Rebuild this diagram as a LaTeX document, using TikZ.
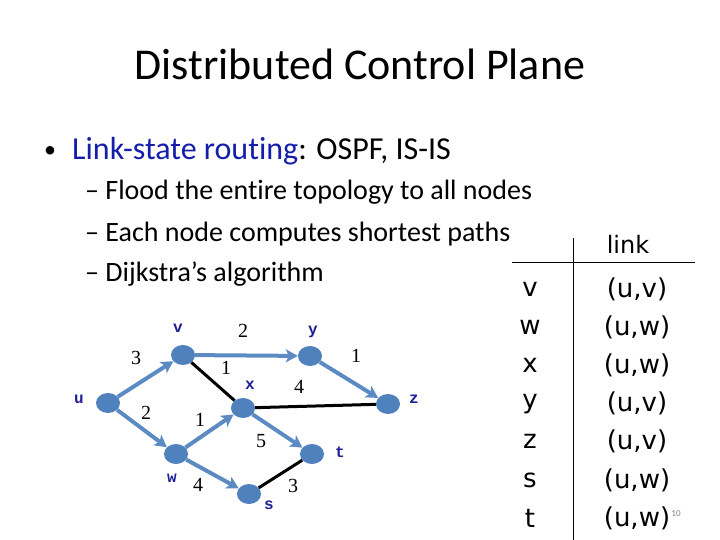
\documentclass[tikz,border=0pt]{standalone}
\usepackage{fontspec}
\setmainfont{Carlito}[Ligatures=NoCommon]
\newfontfamily\monof{Liberation Mono}
\newfontfamily\serf{Liberation Serif}
\newfontfamily\tabf{DejaVu Sans}
\usetikzlibrary{arrows.meta,shapes.geometric}
\definecolor{nodeblue}{RGB}{79,129,189}
\definecolor{edgeblue}{RGB}{92,139,196}
\definecolor{lblblue}{RGB}{30,30,150}
\definecolor{linkblue}{RGB}{20,30,170}
\begin{document}
\begin{tikzpicture}[x=1pt,y=-1pt,
  vert/.style={ellipse, fill=nodeblue, minimum width=24pt, minimum height=20pt, inner sep=0pt},
  nlab/.style={font=\monof\bfseries\fontsize{16}{16}\selectfont, text=lblblue, inner sep=0pt},
  wlab/.style={font=\serf\fontsize{20}{20}\selectfont, inner sep=0pt},
  treeedge/.style={draw=edgeblue, line width=4pt, -{Stealth[length=12pt,width=13pt,inset=3pt]}},
  otheredge/.style={draw=black, line width=3pt},
  tabtxt/.style={font=\tabf\fontsize{26}{26}\selectfont, inner sep=0pt},
  txt/.style={anchor=base west, inner sep=0pt}
]
\useasboundingbox (0,0) rectangle (720,540);
% title and bullets
\node[inner sep=0pt, anchor=base, font=\fontsize{44}{44}\selectfont] (title) at (360,80) {Distributed Control Plane};
\node[txt, font=\fontsize{24}{24}\selectfont] (b0) at (44,158) {•};
\node[txt, font=\fontsize{32}{32}\selectfont] (b1) at (72,160) {\textcolor{linkblue}{Link-state routing}: OSPF, IS-IS};
\node[txt, font=\fontsize{28}{28}\selectfont] (s1) at (85,200) {– Flood the entire topology to all nodes};
\node[txt, font=\fontsize{28}{28}\selectfont] (s2) at (85,241) {– Each node computes shortest paths};
\node[txt, font=\fontsize{28}{28}\selectfont] (s3) at (85,281) {– Dijkstra’s algorithm};
% graph nodes
\node[vert] (u) at (108,403) {};
\node[vert] (v) at (183,355) {};
\node[vert] (y) at (310,356) {};
\node[vert] (x) at (243,408) {};
\node[vert] (z) at (388,404) {};
\node[vert] (w) at (176,454) {};
\node[vert] (t) at (312,454) {};
\node[vert] (s) at (249,494) {};
% edges
\draw[otheredge] (v) -- (x);
\draw[otheredge] (x) -- (z);
\draw[otheredge] (s) -- (t);
\draw[treeedge] (u) -- (v);
\draw[treeedge] (v) -- (y);
\draw[treeedge] (y) -- (z);
\draw[treeedge] (u) -- (w);
\draw[treeedge] (w) -- (x);
\draw[treeedge] (x) -- (t);
\draw[treeedge] (w) -- (s);
% node labels
\node[nlab] (lu) at (79,399) {u};
\node[nlab] (lv) at (178,328) {v};
\node[nlab] (ly) at (313,332) {y};
\node[nlab] (lx) at (250,385) {x};
\node[nlab] (lz) at (414,399) {z};
\node[nlab] (lw) at (172,478) {w};
\node[nlab] (lt) at (340,452) {t};
\node[nlab] (ls) at (269,505) {s};
% weights
\node[wlab] (w1) at (136,358) {3};
\node[wlab] (w2) at (243,331) {2};
\node[wlab] (w3) at (226,368) {1};
\node[wlab] (w4) at (356,356) {1};
\node[wlab] (w5) at (299,387) {4};
\node[wlab] (w6) at (146,413) {2};
\node[wlab] (w7) at (200,420) {1};
\node[wlab] (w8) at (261,441) {5};
\node[wlab] (w9) at (198,485) {4};
\node[wlab] (w10) at (293,486) {3};
% table
\coordinate (hl) at (512,262);
\coordinate (hr) at (695,262);
\coordinate (vt) at (573,238);
\coordinate (vb) at (573,540);
\draw[line width=1pt] (hl) -- (hr);
\draw[line width=1pt] (vt) -- (vb);
\node[tabtxt, font=\tabf\fontsize{24}{24}\selectfont] (hdr) at (628,244) {link};
\foreach \k/\l [count=\i from 0] in {v/{(u,v)}, w/{(u,w)}, x/{(u,w)}, y/{(u,v)}, z/{(u,v)}, s/{(u,w)}, t/{(u,w)}}{
  \node[tabtxt] (k\i) at (530,{289+38.2*\i}) {\k};
  \node[tabtxt] (r\i) at (637,{289+38.2*\i}) {\l};
}
\node[inner sep=0pt, text=gray, font=\fontsize{9}{9}\selectfont] (pg) at (676,514) {10};
\end{tikzpicture}
\end{document}
